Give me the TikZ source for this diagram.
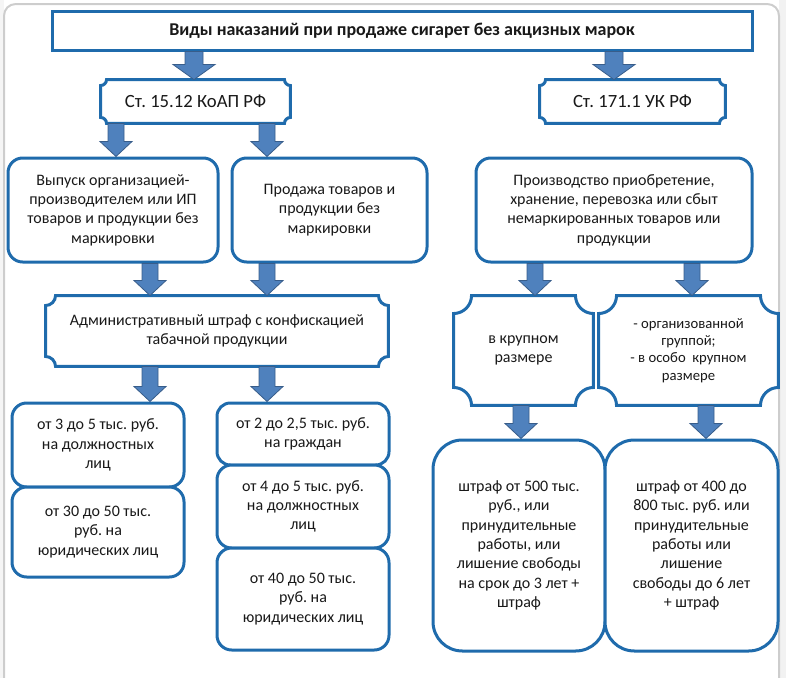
\documentclass[tikz,border=0pt]{standalone}
\usepackage{fontspec}
\setmainfont{Carlito}
\usetikzlibrary{calc}
\frenchspacing
\definecolor{boxblue}{RGB}{31,107,172}
\definecolor{arrfill}{RGB}{79,129,189}
\definecolor{arrline}{RGB}{56,93,138}
\definecolor{framegray}{RGB}{205,205,205}
% box node: [style]{name}{x0}{y0}{x1}{y1}{text}
\newcommand\bx[7][]{\node[#1, minimum width={(#5-#3)*0.75pt}, minimum height={(#6-#4)*0.75pt}] (#2) at ({(#3+#5)/2},{(#4+#6)/2}) {#7};}
% plaque outline around node #1 with concave corner radius #2
\newcommand\plq[2]{\draw[plaqueline] let \p1=(#1.north west), \p2=(#1.south east) in
  ({\x1+#2},\y1) -- ({\x2-#2},\y1)
  .. controls ({\x2-#2},{\y1-0.552*#2}) and ({\x2-0.552*#2},{\y1-#2}) .. ({\x2},{\y1-#2})
  -- ({\x2},{\y2+#2})
  .. controls ({\x2-0.552*#2},{\y2+#2}) and ({\x2-#2},{\y2+0.552*#2}) .. ({\x2-#2},{\y2})
  -- ({\x1+#2},{\y2})
  .. controls ({\x1+#2},{\y2+0.552*#2}) and ({\x1+0.552*#2},{\y2+#2}) .. ({\x1},{\y2+#2})
  -- ({\x1},{\y1-#2})
  .. controls ({\x1+0.552*#2},{\y1-#2}) and ({\x1+#2},{\y1-0.552*#2}) .. cycle;}
% block arrow: x(px), from node, to node, shaft half width, head half width (px)
\newcommand\barr[5]{\filldraw[blockarrow] let \p1=(#2.south), \p2=(#3.north) in
  ({(#1-#4)*0.75pt},\y1) -- ({(#1+#4)*0.75pt},\y1) -- ({(#1+#4)*0.75pt},{\y2+15*0.75pt})
  -- ({(#1+#5)*0.75pt},{\y2+15*0.75pt}) -- ({#1*0.75pt},\y2) -- ({(#1-#5)*0.75pt},{\y2+15*0.75pt})
  -- ({(#1-#4)*0.75pt},{\y2+15*0.75pt}) -- cycle;}
\begin{document}
\begin{tikzpicture}[x=0.75pt,y=-0.75pt,
  txt/.style={align=center, inner sep=0pt, font=\fontsize{12pt}{14.5pt}\selectfont, text=black!90},
  rbox/.style={txt, draw=boxblue, fill=white, line width=2.25pt, rounded corners=#1},
  rbox/.default=10pt,
  titlebox/.style={txt, draw=boxblue, fill=white, line width=2.25pt, font=\fontsize{13.5pt}{16pt}\selectfont\bfseries},
  plaquebox/.style={txt, outer sep=1.1pt},
  plaqueline/.style={draw=boxblue, fill=white, line width=2.25pt},
  blockarrow/.style={fill=arrfill, draw=arrline, line width=0.6pt, line join=miter}]
\useasboundingbox (0,0) rectangle (786,678);
% window frame
\fill[gray!10] (779,0) rectangle (786,678);
\fill[gray!8] (0,0) rectangle (4,678);
\draw[framegray, line width=1.5pt] (4,678) -- (4,16) .. controls (4,9) and (9,4) .. (16,4) -- (767,4) .. controls (774,4) and (779,9) .. (779,16) -- (779,678);

% nodes
\bx[titlebox]{title}{52}{11}{752}{50}{Виды наказаний при продаже сигарет без акцизных марок}
\bx[plaquebox]{st1}{102}{81}{289}{122}{}
\bx[plaquebox]{st2}{541}{81}{724}{122}{}
\bx[rbox=11pt]{b1}{8}{158}{218}{262}{Выпуск организацией-\\производителем или ИП\\товаров и продукции без\\маркировки}
\bx[rbox=11pt]{b2}{232}{158}{427}{262}{Продажа товаров и\\продукции без\\маркировки}
\bx[rbox=11pt]{b3}{476}{158}{752}{262}{Производство приобретение,\\хранение, перевозка или сбыт\\немаркированных товаров или\\продукции}
\bx[plaquebox]{adm}{47}{297}{387}{365}{}
\bx[plaquebox]{pl1}{455}{297}{592}{404}{}
\bx[plaquebox]{pl2}{600}{297}{777}{404}{}
\bx[rbox=11pt]{f1}{12}{403}{184}{487}{от 3 до 5 тыс. руб.\\на должностных\\лиц}
\bx[rbox=11pt]{f2}{12}{487}{184}{577}{от 30 до 50 тыс.\\руб. на\\юридических лиц}
\bx[rbox=10pt]{g1}{217}{403}{389}{465}{от 2 до 2,5 тыс. руб.\\на граждан}
\bx[rbox=11pt]{g2}{217}{465}{389}{548}{от 4 до 5 тыс. руб.\\на должностных\\лиц}
\bx[rbox=11pt]{g3}{217}{548}{389}{650}{от 40 до 50 тыс.\\руб. на\\юридических лиц}
\bx[rbox=22pt]{h1}{433}{440}{605}{651}{штраф от 500 тыс.\\руб., или\\принудительные\\работы, или\\лишение свободы\\на срок до 3 лет +\\штраф}
\bx[rbox=22pt]{h2}{605}{440}{778}{651}{штраф от 400 до\\800 тыс. руб. или\\принудительные\\работы или\\лишение\\свободы до 6 лет\\+ штраф}

% plaque outlines and their texts
\plq{st1}{4.5pt}
\plq{st2}{4.5pt}
\plq{adm}{7.5pt}
\plq{pl1}{13.5pt}
\plq{pl2}{13.5pt}
\node[txt, font=\fontsize{14pt}{17pt}\selectfont] at (st1) {Ст. 15.12 КоАП РФ};
\node[txt, font=\fontsize{14pt}{17pt}\selectfont] at (st2) {Ст. 171.1 УК РФ};
\node[txt] at (adm) {Административный штраф с конфискацией\\табачной продукции};
\node[txt] at (pl1) {в крупном\\размере};
\node[txt, font=\fontsize{11pt}{13pt}\selectfont] at (pl2) {- организованной\\группой;\\- в особо\ \ крупном\\размере};

% block arrows
\barr{194}{title}{st1}{9}{21}
\barr{614}{title}{st2}{9}{21}
\barr{116}{st1}{b1}{8}{16}
\barr{267}{st1}{b2}{8}{16}
\barr{150}{b1}{adm}{8}{16}
\barr{267}{b2}{adm}{8}{16}
\barr{150}{adm}{f1}{8}{16}
\barr{267}{adm}{g1}{8}{16}
\barr{535}{b3}{pl1}{8}{16}
\barr{692}{b3}{pl2}{8}{16}
\barr{521}{pl1}{h1}{8}{16}
\barr{706}{pl2}{h2}{8}{16}
\end{tikzpicture}
\end{document}
